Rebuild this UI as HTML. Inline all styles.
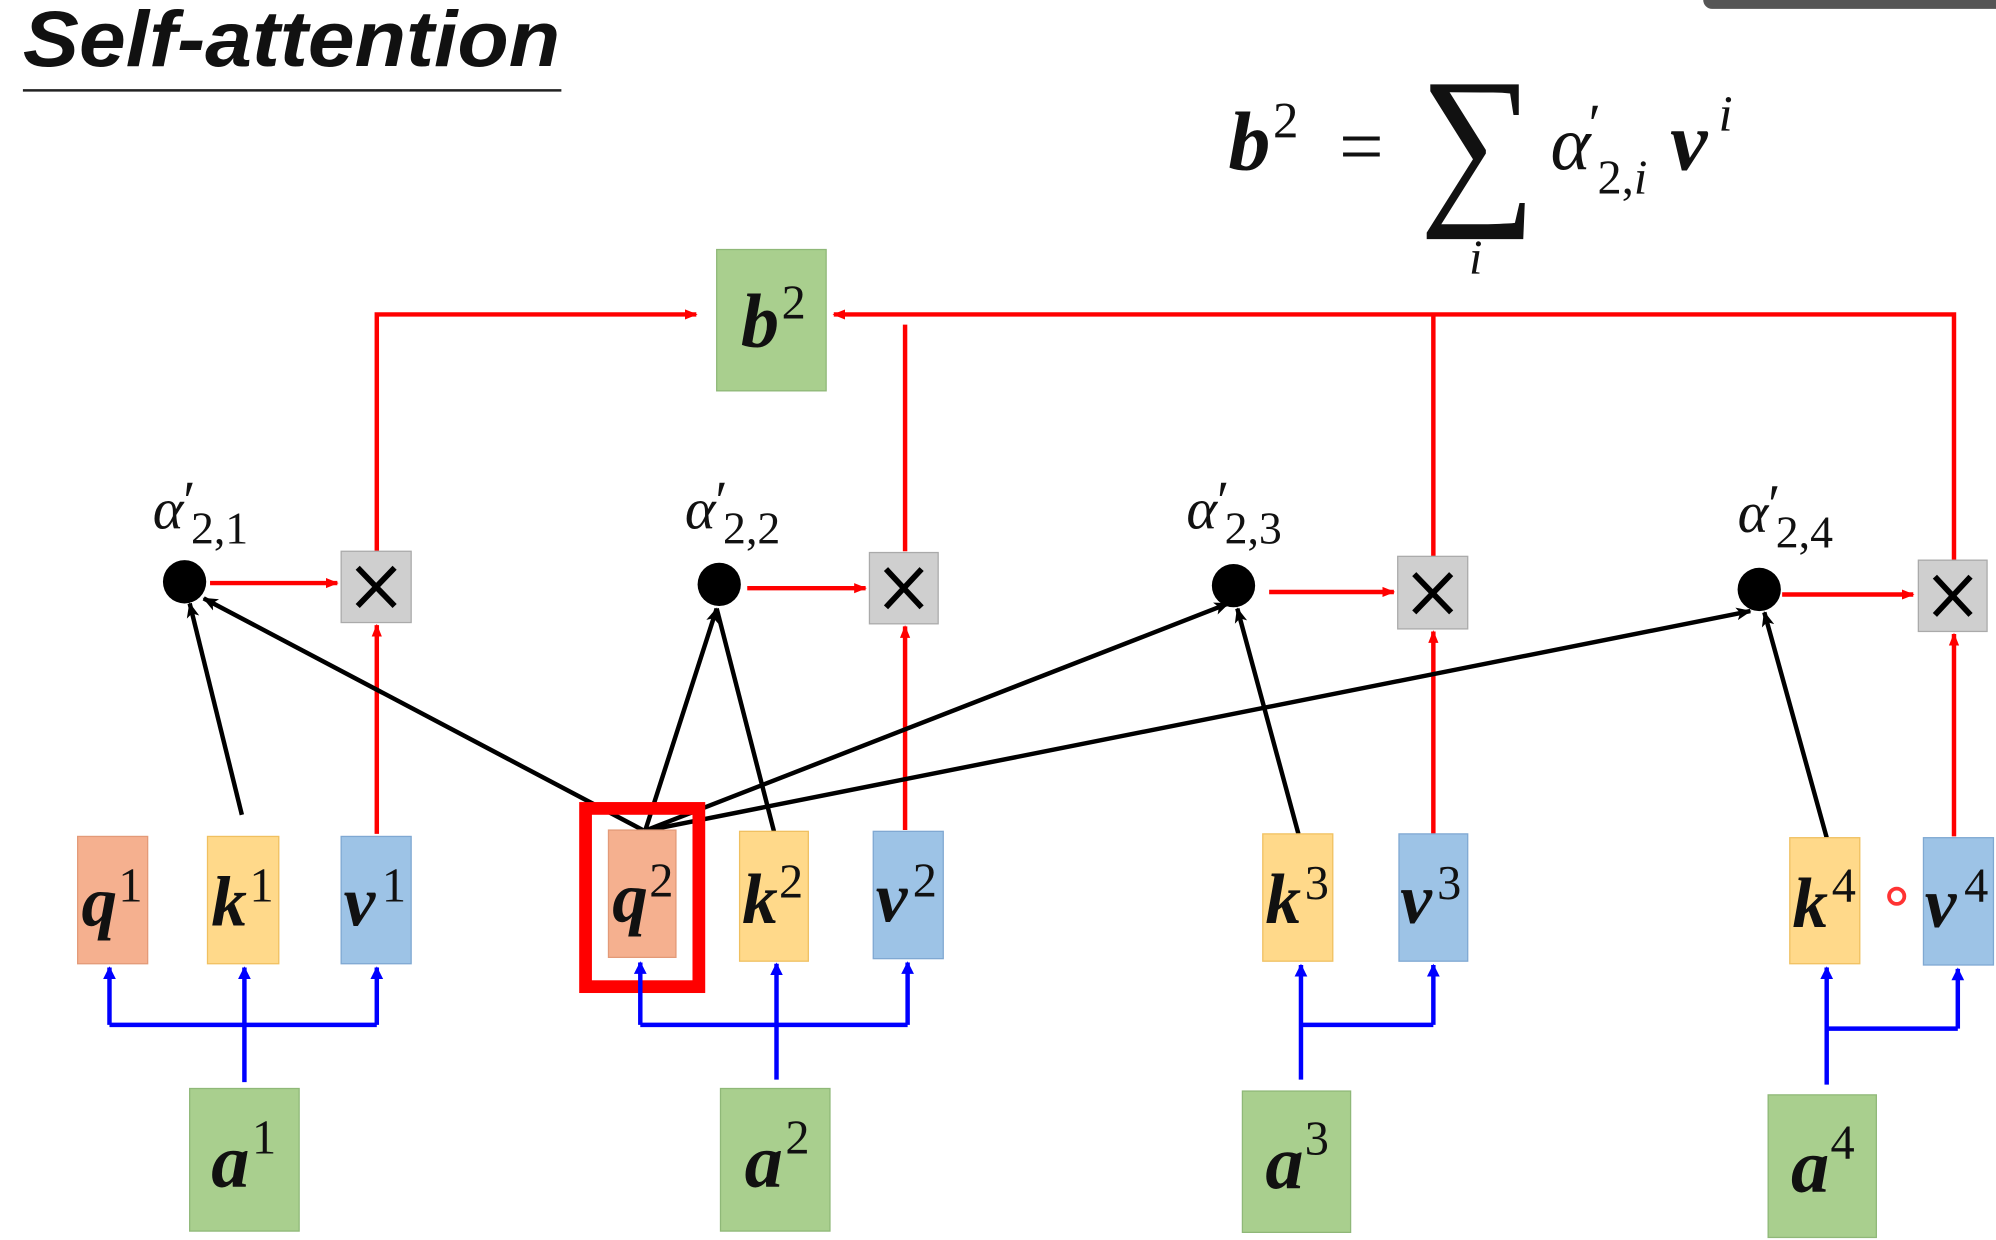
<!DOCTYPE html>
<html><head><meta charset="utf-8"><style>
html,body{margin:0;padding:0;background:#fff;width:1996px;height:1240px;overflow:hidden}
svg{display:block}
.v{font-family:"Liberation Serif",serif;font-style:italic;font-weight:bold;fill:#111}
.s{font-family:"Liberation Serif",serif;font-weight:normal;fill:#111}
.al{font-family:"Liberation Serif",serif;font-style:italic;fill:#111}
</style></head><body>
<svg width="1996" height="1240" viewBox="0 0 1568 974" preserveAspectRatio="none" xmlns="http://www.w3.org/2000/svg">
<defs>
<marker id="ar" markerWidth="10" markerHeight="10" refX="9" refY="5" orient="auto" markerUnits="userSpaceOnUse"><path d="M0,1 L10,5 L0,9 z" fill="#f00"/></marker>
<marker id="ab" markerWidth="10" markerHeight="12" refX="9" refY="6" orient="auto" markerUnits="userSpaceOnUse"><path d="M0,1 L10,6 L0,11 z" fill="#00f"/></marker>
<marker id="ak" markerWidth="12" markerHeight="12" refX="11" refY="6" orient="auto" markerUnits="userSpaceOnUse"><path d="M0,1 L12,6 L0,11 L3,6 z" fill="#000"/></marker>
</defs>
<rect x="1338" y="-10" width="240" height="17" rx="7" fill="#555"/>
<text x="18" y="52" font-family="Liberation Sans,sans-serif" font-style="italic" font-weight="bold" font-size="62" fill="#111" textLength="422" lengthAdjust="spacingAndGlyphs">Self-attention</text>
<line x1="18" y1="71" x2="441" y2="71" stroke="#222" stroke-width="2"/>
<!-- formula -->
<text x="965" y="133" class="v" font-size="66">b</text>
<text x="1000" y="108" class="s" font-size="40">2</text>
<text x="1052" y="136" class="s" font-size="62">=</text>
<text x="1115" y="158" class="s" font-size="140" transform="translate(1115 0) scale(0.92 1) translate(-1115 0)">∑</text>
<text x="1154" y="215" class="al" font-size="38">i</text>
<text x="1218" y="133" class="al" font-size="60">α</text>
<text x="1248" y="112" class="s" font-size="44">′</text>
<text x="1255" y="152" class="s" font-size="38">2,<tspan font-style="italic">i</tspan></text>
<text x="1312" y="133" class="v" font-size="66">v</text>
<text x="1350" y="103" class="al" font-size="40">i</text>
<!-- red lines -->
<g stroke="#f00" stroke-width="3.5" fill="none">
<polyline points="296,433 296,247 547,247" marker-end="url(#ar)"/>
<polyline points="1535,440 1535,247 655,247" marker-end="url(#ar)"/>
<line x1="711" y1="433" x2="711" y2="255"/>
<line x1="1126" y1="437" x2="1126" y2="247"/>
<line x1="165" y1="458" x2="265" y2="458" marker-end="url(#ar)"/>
<line x1="587" y1="462" x2="680" y2="462" marker-end="url(#ar)"/>
<line x1="997" y1="465" x2="1095" y2="465" marker-end="url(#ar)"/>
<line x1="1400" y1="467" x2="1503" y2="467" marker-end="url(#ar)"/>
<line x1="296" y1="655" x2="296" y2="491" marker-end="url(#ar)"/>
<line x1="711" y1="652" x2="711" y2="492" marker-end="url(#ar)"/>
<line x1="1126" y1="655" x2="1126" y2="496" marker-end="url(#ar)"/>
<line x1="1535" y1="657" x2="1535" y2="498" marker-end="url(#ar)"/>
</g>
<!-- b2 -->
<rect x="563" y="196" width="86" height="111" fill="#a9cf8e" stroke="#8fb878"/>
<text x="582" y="272" class="v" font-size="60">b</text><text x="614" y="250" class="s" font-size="38">2</text>
<!-- alpha labels and dots -->
<g>
<text x="120" y="415" class="al" font-size="46">α</text><text x="144" y="408" class="s" font-size="44">′</text><text x="150" y="427" class="s" font-size="36">2,1</text>
<text x="538" y="415" class="al" font-size="46">α</text><text x="562" y="408" class="s" font-size="44">′</text><text x="568" y="427" class="s" font-size="36">2,2</text>
<text x="932" y="415" class="al" font-size="46">α</text><text x="956" y="408" class="s" font-size="44">′</text><text x="962" y="427" class="s" font-size="36">2,3</text>
<text x="1365" y="418" class="al" font-size="46">α</text><text x="1389" y="411" class="s" font-size="44">′</text><text x="1395" y="430" class="s" font-size="36">2,4</text>
<circle cx="145" cy="457" r="17" fill="#000"/>
<circle cx="565" cy="459" r="17" fill="#000"/>
<circle cx="969" cy="460" r="17" fill="#000"/>
<circle cx="1382" cy="463" r="17" fill="#000"/>
</g>
<!-- X boxes -->
<g fill="#cfcfcf" stroke="#aaa">
<rect x="268" y="433" width="55" height="56"/><rect x="683" y="434" width="54" height="56"/>
<rect x="1098" y="437" width="55" height="57"/><rect x="1507" y="440" width="54" height="56"/>
</g>
<g stroke="#000" stroke-width="4.5">
<path d="M281,446 L310,476 M310,446 L281,476"/>
<path d="M696,447 L724,477 M724,447 L696,477"/>
<path d="M1111,451 L1140,481 M1140,451 L1111,481"/>
<path d="M1520,453 L1548,483 M1548,453 L1520,483"/>
</g>
<!-- black arrows -->
<g stroke="#000" stroke-width="3.5">
<line x1="190" y1="640" x2="149" y2="474" marker-end="url(#ak)"/>
<line x1="505" y1="652" x2="160" y2="470" marker-end="url(#ak)"/>
<line x1="507" y1="652" x2="563" y2="478" marker-end="url(#ak)"/>
<line x1="608" y1="653" x2="563" y2="478"/>
<line x1="508" y1="652" x2="965" y2="474" marker-end="url(#ak)"/>
<line x1="510" y1="652" x2="1375" y2="480" marker-end="url(#ak)"/>
<line x1="1020" y1="655" x2="972" y2="478" marker-end="url(#ak)"/>
<line x1="1435" y1="658" x2="1386" y2="481" marker-end="url(#ak)"/>
</g>
<!-- qkv boxes -->
<g>
<rect x="61" y="657" width="55" height="100" fill="#f5b08f" stroke="#e39a78"/>
<rect x="163" y="657" width="56" height="100" fill="#ffd98a" stroke="#f0c060"/>
<rect x="268" y="657" width="55" height="100" fill="#9dc3e6" stroke="#7fa8d2"/>
<rect x="478" y="652" width="53" height="100" fill="#f5b08f" stroke="#e39a78"/>
<rect x="581" y="653" width="54" height="102" fill="#ffd98a" stroke="#f0c060"/>
<rect x="686" y="653" width="55" height="100" fill="#9dc3e6" stroke="#7fa8d2"/>
<rect x="992" y="655" width="55" height="100" fill="#ffd98a" stroke="#f0c060"/>
<rect x="1099" y="655" width="54" height="100" fill="#9dc3e6" stroke="#7fa8d2"/>
<rect x="1406" y="658" width="55" height="99" fill="#ffd98a" stroke="#f0c060"/>
<rect x="1511" y="658" width="55" height="100" fill="#9dc3e6" stroke="#7fa8d2"/>
</g>
<g class="v" font-size="56">
<text x="64" y="727">q</text><text x="166" y="727">k</text><text x="270" y="727">v</text>
<text x="481" y="724">q</text><text x="583" y="725">k</text><text x="688" y="724">v</text>
<text x="994" y="725">k</text><text x="1100" y="725">v</text>
<text x="1408" y="728">k</text><text x="1512" y="728">v</text>
</g>
<g class="s" font-size="38">
<text x="93" y="708">1</text><text x="196" y="708">1</text><text x="300" y="708">1</text>
<text x="510" y="704">2</text><text x="612" y="705">2</text><text x="717" y="704">2</text>
<text x="1025" y="706">3</text><text x="1129" y="706">3</text>
<text x="1439" y="708">4</text><text x="1543" y="708">4</text>
</g>
<circle cx="1490" cy="704" r="6" fill="none" stroke="#f33" stroke-width="3"/>
<rect x="460" y="635" width="89" height="140" fill="none" stroke="#f00" stroke-width="10"/>
<!-- blue -->
<g stroke="#00f" stroke-width="3.5" fill="none">
<polyline points="86,805 86,760" marker-end="url(#ab)"/><polyline points="192,850 192,760" marker-end="url(#ab)"/><polyline points="296,805 296,760" marker-end="url(#ab)"/>
<line x1="86" y1="805" x2="296" y2="805"/>
<polyline points="503,805 503,756" marker-end="url(#ab)"/><polyline points="610,848 610,757" marker-end="url(#ab)"/><polyline points="713,805 713,756" marker-end="url(#ab)"/>
<line x1="503" y1="805" x2="713" y2="805"/>
<polyline points="1022,848 1022,758" marker-end="url(#ab)"/><polyline points="1126,805 1126,758" marker-end="url(#ab)"/>
<line x1="1022" y1="805" x2="1126" y2="805"/>
<polyline points="1435,852 1435,760" marker-end="url(#ab)"/><polyline points="1538,808 1538,761" marker-end="url(#ab)"/>
<line x1="1435" y1="808" x2="1538" y2="808"/>
</g>
<!-- a boxes -->
<g fill="#a9cf8e" stroke="#8fb878">
<rect x="149" y="855" width="86" height="112"/><rect x="566" y="855" width="86" height="112"/>
<rect x="976" y="857" width="85" height="111"/><rect x="1389" y="860" width="85" height="112"/>
</g>
<g class="v" font-size="60">
<text x="166" y="932">a</text><text x="585" y="932">a</text><text x="994" y="933">a</text><text x="1407" y="936">a</text>
</g>
<g class="s" font-size="38">
<text x="198" y="906">1</text><text x="617" y="906">2</text><text x="1025" y="907">3</text><text x="1438" y="910">4</text>
</g>
</svg>
</body></html>
